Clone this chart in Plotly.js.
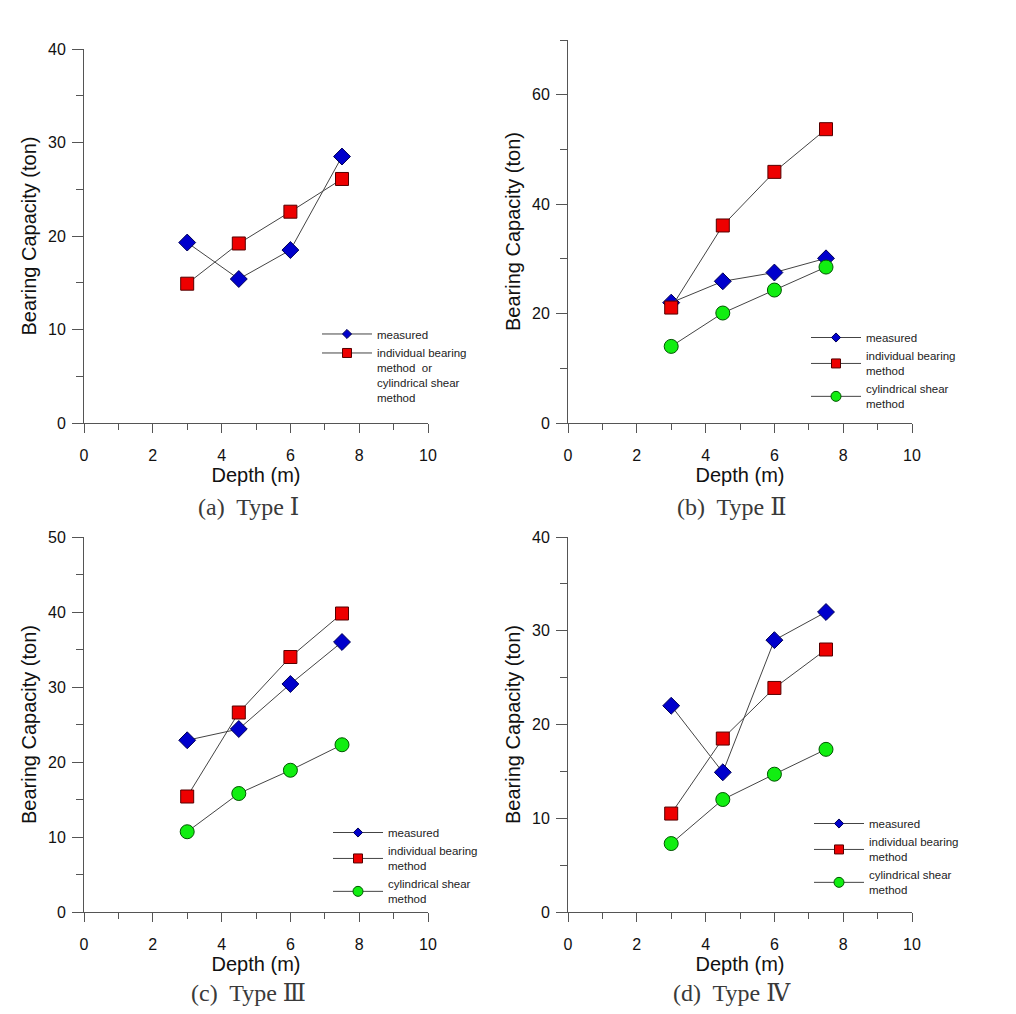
<!DOCTYPE html>
<html>
<head>
<meta charset="utf-8">
<script src="https://cdn.plot.ly/plotly-3.0.1.min.js"></script>
<style>html,body{margin:0;padding:0;background:#fff;}#chart{width:1016px;height:1014px;}</style>
</head>
<body>
<div id="chart"></div>
<script>
// ---- data ----
const depth = [3, 4.5, 6, 7.5];

const measuredA = [19.3, 15.4, 18.5, 28.5];
const individualA = [14.9, 19.2, 22.6, 26.1];

const measuredB = [22.0, 25.9, 27.5, 30.1];
const individualB = [21.1, 36.1, 45.9, 53.7];
const cylindricalB = [14.0, 20.1, 24.3, 28.5];

const measuredC = [22.9, 24.4, 30.4, 36.0];
const individualC = [15.4, 26.6, 34.0, 39.8];
const cylindricalC = [10.7, 15.8, 18.9, 22.3];

const measuredD = [22.0, 14.9, 29.0, 32.0];
const individualD = [10.5, 18.5, 23.9, 28.0];
const cylindricalD = [7.3, 12.0, 14.7, 17.35];

const seriesNames = ['measured', 'individual bearing<br>method', 'cylindrical shear<br>method'];
const nameA2 = 'individual bearing<br>method  or<br>cylindrical shear<br>method';
const captions = ['(a)  Type Ⅰ', '(b)  Type Ⅱ', '(c)  Type Ⅲ', '(d)  Type Ⅳ'];
const yMax = [40, 70, 50, 40];
const yDtick = [10, 20, 10, 10];
const xTitle = 'Depth (m)';
const yTitle = 'Bearing Capacity (ton)';

// ---- styles ----
const W = 1016, H = 1014;
const LINE = {color: '#444', width: 1};
const styles = {
  measured: {symbol: 'diamond', color: '#0000CC', line: {color: '#000055', width: 1}},
  individual: {symbol: 'square', color: '#EE0000', line: {color: '#550000', width: 1}},
  cylindrical: {symbol: 'circle', color: '#11EE11', line: {color: '#005500', width: 1}}
};
const plotSize = {measured: 13, individual: 13, cylindrical: 14};
const legSize = {measured: 7, individual: 9, cylindrical: 10};

function px2x(p) { return p / W; }
function px2y(p) { return 1 - p / H; }

const panels = [
  {xd: [84, 428], yd: [49, 423], leg: {x: 317, y: 320}, data: {measured: measuredA, individual: individualA}},
  {xd: [568, 912], yd: [40, 423], leg: {x: 806, y: 323}, data: {measured: measuredB, individual: individualB, cylindrical: cylindricalB}},
  {xd: [84, 428], yd: [537, 912], leg: {x: 328, y: 818}, data: {measured: measuredC, individual: individualC, cylindrical: cylindricalC}},
  {xd: [568, 912], yd: [537, 912], leg: {x: 809, y: 809}, data: {measured: measuredD, individual: individualD, cylindrical: cylindricalD}}
];

const traces = [];
const layout = {
  width: W, height: H,
  margin: {l: 0, r: 0, t: 0, b: 0},
  paper_bgcolor: '#fff', plot_bgcolor: 'rgba(0,0,0,0)',
  font: {family: 'Liberation Sans, Arial, sans-serif', color: '#111'},
  showlegend: true,
  annotations: []
};

const keys = ['measured', 'individual', 'cylindrical'];
panels.forEach((p, i) => {
  const n = i + 1;
  const xa = 'x' + (n === 1 ? '' : n), ya = 'y' + (n === 1 ? '' : n);
  const legName = n === 1 ? 'legend' : 'legend' + n;
  keys.forEach((k, j) => {
    if (!p.data[k]) return;
    traces.push({
      type: 'scatter', mode: 'lines+markers', x: depth, y: p.data[k],
      xaxis: xa, yaxis: ya, showlegend: false,
      line: LINE,
      marker: Object.assign({size: plotSize[k]}, styles[k])
    });
  });
  keys.forEach((k, j) => {
    if (!p.data[k]) return;
    let name = seriesNames[j];
    if (n === 1 && k === 'individual') name = nameA2;
    traces.push({
      type: 'scatter', mode: 'lines+markers', x: [null], y: [null],
      xaxis: xa, yaxis: ya, showlegend: true, legend: legName, name: name,
      line: LINE,
      marker: Object.assign({size: legSize[k]}, styles[k])
    });
  });
  layout['xaxis' + (n === 1 ? '' : n)] = {
    domain: [px2x(p.xd[0]), px2x(p.xd[1])], anchor: ya,
    range: [0, 10], dtick: 2, tick0: 0, fixedrange: true,
    showline: true, linecolor: '#555', linewidth: 1, showgrid: false, zeroline: false,
    ticks: 'outside', ticklen: 9, tickcolor: '#555', tickwidth: 1,
    minor: {dtick: 1, ticks: 'outside', ticklen: 6, tickcolor: '#555', showgrid: false},
    ticklabelstandoff: 9,
    tickfont: {size: 16, color: '#111'},
    title: {text: xTitle, font: {size: 20, color: '#111'}, standoff: 4}
  };
  layout['yaxis' + (n === 1 ? '' : n)] = {
    domain: [px2y(p.yd[1]), px2y(p.yd[0])], anchor: xa,
    range: [0, yMax[i]], dtick: yDtick[i], tick0: 0, fixedrange: true,
    showline: true, linecolor: '#555', linewidth: 1, showgrid: false, zeroline: false,
    ticks: 'outside', ticklen: 11, tickcolor: '#555', tickwidth: 1,
    minor: {dtick: yDtick[i] / 2, ticks: 'outside', ticklen: 7, tickcolor: '#555', showgrid: false},
    ticklabelstandoff: 3,
    tickfont: {size: 16, color: '#111'},
    title: {text: yTitle, font: {size: 20, color: '#111'}, standoff: 6}
  };
  layout[legName] = {
    x: px2x(p.leg.x), y: px2y(p.leg.y), xanchor: 'left', yanchor: 'top',
    bgcolor: 'rgba(0,0,0,0)', borderwidth: 0,
    font: {size: 11.5, color: '#222'},
    itemsizing: 'trace', itemwidth: 50, tracegroupgap: 0,
    valign: n === 1 ? 'top' : 'middle'
  };
  const capY = n <= 2 ? 507 : 993;
  layout.annotations.push({
    xref: 'paper', yref: 'paper', x: px2x((p.xd[0] + p.xd[1]) / 2 - 8), y: px2y(capY),
    xanchor: 'center', yanchor: 'middle', showarrow: false,
    text: captions[i],
    font: {family: 'Liberation Serif, DejaVu Serif, serif', size: 24, color: '#3a3a3a'}
  });
});

Plotly.newPlot('chart', traces, layout, {staticPlot: true, displayModeBar: false});
</script>
</body>
</html>
